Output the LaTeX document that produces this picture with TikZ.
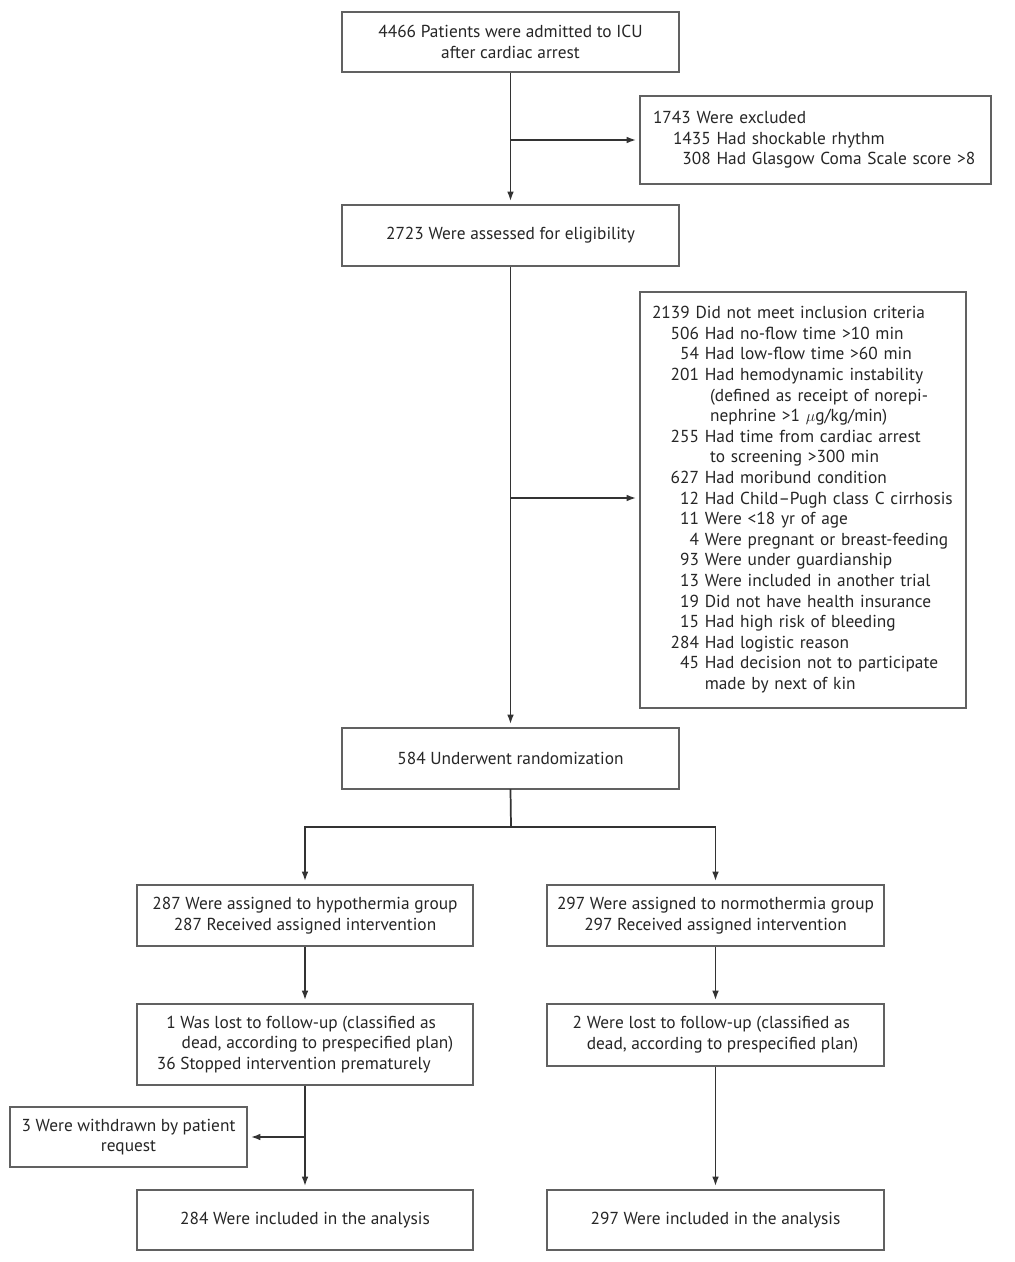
\documentclass[tikz,border=0pt]{standalone}
\usepackage{fontspec}
\setmainfont{PT Sans}
\usetikzlibrary{arrows.meta}
\def\u{0.75pt}
\tikzset{
  box/.style={draw=black!62, line width=1.4pt, inner sep=0pt, align=center, text=black!85,
    font=\fontsize{13pt}{15.45pt}\selectfont},
  lbox/.style={box, align=left, inner xsep=#1*\u},
  line/.style={draw=black!80, line width=1.3pt},
  arr/.style={line, -{Latex[length=7pt,width=5pt]}, shorten >=3*\u},
}
\begin{document}
\begin{tikzpicture}[x=\u,y=-\u]
\useasboundingbox (0,0) rectangle (1014,1262);
\fill[white] (0,0) rectangle (1014,1262);

\node[box, minimum width=337*\u, minimum height=60*\u] (b1) at (510.5,42)
  {4466 Patients were admitted to ICU\\after cardiac arrest};
\node[box, minimum width=337*\u, minimum height=61*\u] (b2) at (510.5,235.5)
  {2723 Were assessed for eligibility};
\node[box, minimum width=337*\u, minimum height=61*\u] (b3) at (510.5,758.5)
  {584 Underwent randomization};

\node[lbox=13, text width=325*\u, minimum height=88*\u] (e1) at (815.5,140)
  {\begin{tabular}{@{\hspace{15pt}}r@{ }l@{}}
   \multicolumn{2}{@{}l@{}}{1743 Were excluded}\\
   1435 & Had shockable rhythm\\
   308 & Had Glasgow Coma Scale score >8
   \end{tabular}};

\node[lbox=12, text width=302*\u, minimum height=416*\u] (e2) at (803,500)
  {\begin{tabular}{@{\hspace{14pt}}r@{ }l@{}}
   \multicolumn{2}{@{}l@{}}{2139 Did not meet inclusion criteria}\\
   506 & Had no-flow time >10 min\\
   54 & Had low-flow time >60 min\\
   201 & Had hemodynamic instability\\
    & \hspace{4pt}(defined as receipt of norepi-\\
    & \hspace{4pt}nephrine >1 $\mu$g/kg/min)\\
   255 & Had time from cardiac arrest\\
    & \hspace{4pt}to screening >300 min\\
   627 & Had moribund condition\\
   12 & Had Child--Pugh class C cirrhosis\\
   11 & Were <18 yr of age\\
   4 & Were pregnant or breast-feeding\\
   93 & Were under guardianship\\
   13 & Were included in another trial\\
   19 & Did not have health insurance\\
   15 & Had high risk of bleeding\\
   284 & Had logistic reason\\
   45 & Had decision not to participate\\
    & made by next of kin
   \end{tabular}};

\node[box, minimum width=336*\u, minimum height=61*\u] (l1) at (305,915.5)
  {287 Were assigned to hypothermia group\\287 Received assigned intervention};
\node[box, minimum width=337*\u, minimum height=61*\u] (r1) at (715.5,915.5)
  {297 Were assigned to normothermia group\\297 Received assigned intervention};

\node[box, minimum width=336*\u, minimum height=81*\u] (l2) at (305,1044.5)
  {\begin{tabular}{@{}r@{ }l@{}}
   1 & Was lost to follow-up (classified as\\
     & \hspace{1pt}dead, according to prespecified plan)\\
   36 & Stopped intervention prematurely
   \end{tabular}};
\node[box, minimum width=337*\u, minimum height=62*\u] (r2) at (715.5,1035)
  {\begin{tabular}{@{}r@{ }l@{}}
   2 & Were lost to follow-up (classified as\\
     & dead, according to prespecified plan)
   \end{tabular}};

\node[box, minimum width=237*\u, minimum height=60*\u] (w) at (128.5,1137)
  {3 Were withdrawn by patient\\request};

\node[box, minimum width=336*\u, minimum height=60*\u] (l3) at (305,1220)
  {284 Were included in the analysis};
\node[box, minimum width=337*\u, minimum height=60*\u] (r3) at (715.5,1220)
  {297 Were included in the analysis};

\coordinate (j1) at (b1.south |- e1.west);
\coordinate (j2) at (511,498);
\coordinate (j3) at (511,827);
\coordinate (jl) at (l1.north |- j3);
\coordinate (jr) at (r1.north |- j3);
\coordinate (j4) at (l2.south |- w.east);

\draw[arr] (b1.south) -- (b2.north);
\draw[arr] (j1) -- (e1.west);
\draw[arr] (b2.south) -- (b3.north);
\draw[arr] (j2) -- (j2 -| e2.west);
\draw[line, line cap=rect] (b3.south) -- (j3);
\draw[arr] (j3) -- (jl) -- (l1.north);
\draw[arr] (j3) -- (jr) -- (r1.north);
\draw[arr] (l1.south) -- (l2.north);
\draw[arr] (r1.south) -- (r2.north);
\draw[arr] (l2.south) -- (l3.north);
\draw[arr] (j4) -- (w.east);
\draw[arr] (r2.south) -- (r3.north);
\end{tikzpicture}
\end{document}
